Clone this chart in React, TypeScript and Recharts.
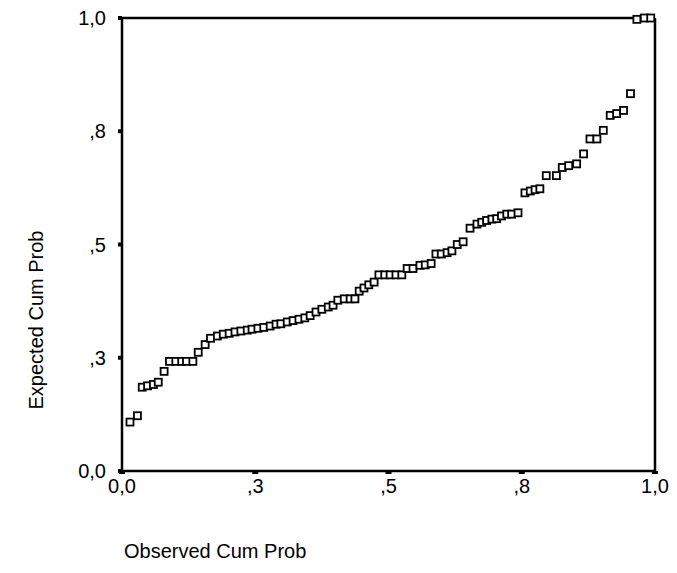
import React from 'react';
import { ScatterChart, Scatter, XAxis, YAxis, ReferenceLine } from 'recharts';

const obsCumProb = [
  0.015, 0.029, 0.038, 0.048, 0.059, 0.068, 0.079, 0.089, 0.101, 0.112,
  0.121, 0.133, 0.143, 0.156, 0.166, 0.179, 0.190, 0.201, 0.212, 0.223,
  0.235, 0.244, 0.255, 0.266, 0.278, 0.289, 0.298, 0.310, 0.321, 0.332,
  0.343, 0.353, 0.364, 0.375, 0.387, 0.396, 0.405, 0.417, 0.428, 0.437,
  0.445, 0.454, 0.463, 0.473, 0.482, 0.493, 0.503, 0.514, 0.525, 0.535,
  0.546, 0.559, 0.569, 0.580, 0.589, 0.599, 0.610, 0.619, 0.629, 0.640,
  0.653, 0.666, 0.675, 0.684, 0.694, 0.703, 0.712, 0.722, 0.731, 0.743,
  0.756, 0.766, 0.775, 0.784, 0.796, 0.815, 0.826, 0.838, 0.853, 0.866,
  0.878, 0.891, 0.903, 0.916, 0.928, 0.941, 0.954, 0.966, 0.980, 0.992,
];

const expCumProb = [
  0.108, 0.122, 0.185, 0.188, 0.191, 0.196, 0.220, 0.242, 0.242, 0.242,
  0.242, 0.242, 0.262, 0.279, 0.293, 0.298, 0.302, 0.304, 0.307, 0.309,
  0.311, 0.313, 0.315, 0.317, 0.320, 0.324, 0.325, 0.329, 0.332, 0.335,
  0.338, 0.343, 0.351, 0.357, 0.362, 0.366, 0.377, 0.380, 0.380, 0.380,
  0.397, 0.404, 0.411, 0.417, 0.433, 0.433, 0.433, 0.433, 0.433, 0.447,
  0.447, 0.454, 0.455, 0.458, 0.479, 0.479, 0.482, 0.486, 0.500, 0.506,
  0.536, 0.545, 0.549, 0.553, 0.556, 0.557, 0.563, 0.567, 0.567, 0.570,
  0.614, 0.618, 0.621, 0.623, 0.652, 0.652, 0.670, 0.674, 0.678, 0.700,
  0.733, 0.733, 0.752, 0.785, 0.789, 0.796, 0.833, 0.997, 1.0, 1.0,
];

const tickValues = [0, 0.25, 0.5, 0.75, 1];
const tickLabels = ['0,0', ',3', ',5', ',8', '1,0'];

const xTitle = 'Observed Cum Prob';
const yTitle = 'Expected Cum Prob';

const data = obsCumProb.map((x, i) => ({ x, y: expCumProb[i] }));

const FONT = 'Liberation Sans, Arial, sans-serif';

const fmt = (v: number) => {
  const i = tickValues.indexOf(v);
  return i >= 0 ? tickLabels[i] : String(v);
};

const SquareShape = (props: any) => {
  const { cx, cy } = props;
  if (cx == null || cy == null) return null;
  return (
    <rect
      x={cx - 3.5}
      y={cy - 3.5}
      width={7}
      height={7}
      fill="#fff"
      stroke="#000"
      strokeWidth={1.8}
    />
  );
};

export default function App() {
  return (
    <div style={{ width: 661, height: 557, background: '#fff' }}>
      <ScatterChart
        width={661}
        height={557}
        margin={{ top: 10, right: 14, bottom: 64, left: 0 }}
      >
        <XAxis
          type="number"
          dataKey="x"
          domain={[0, 1]}
          ticks={tickValues}
          tickFormatter={fmt}
          interval={0}
          height={30}
          axisLine={{ stroke: '#000', strokeWidth: 2.5 }}
          tickLine={{ stroke: '#000', strokeWidth: 6 }}
          tickSize={3}
          tickMargin={5}
          tick={{ fill: '#000', fontSize: 20, fontFamily: FONT }}
          label={{
            content: () => (
              <text
                x={116}
                y={550}
                textAnchor="start"
                fill="#000"
                fontSize={20}
                fontFamily={FONT}
              >
                {xTitle}
              </text>
            ),
          }}
        />
        <YAxis
          type="number"
          dataKey="y"
          domain={[0, 1]}
          ticks={tickValues}
          tickFormatter={fmt}
          interval={0}
          width={114}
          axisLine={{ stroke: '#000', strokeWidth: 2.5 }}
          tickLine={{ stroke: '#000', strokeWidth: 4 }}
          tickSize={4}
          tickMargin={12}
          tick={{ fill: '#000', fontSize: 20, fontFamily: FONT }}
          label={{
            content: () => (
              <text
                x={35}
                y={312}
                transform="rotate(-90 35 312)"
                textAnchor="middle"
                fill="#000"
                fontSize={20}
                fontFamily={FONT}
              >
                {yTitle}
              </text>
            ),
          }}
        />
        <ReferenceLine y={1} stroke="#000" strokeWidth={2.5} />
        <ReferenceLine x={1} stroke="#000" strokeWidth={2.5} />
        <Scatter
          data={data}
          shape={SquareShape}
          isAnimationActive={false}
        />
      </ScatterChart>
    </div>
  );
}
